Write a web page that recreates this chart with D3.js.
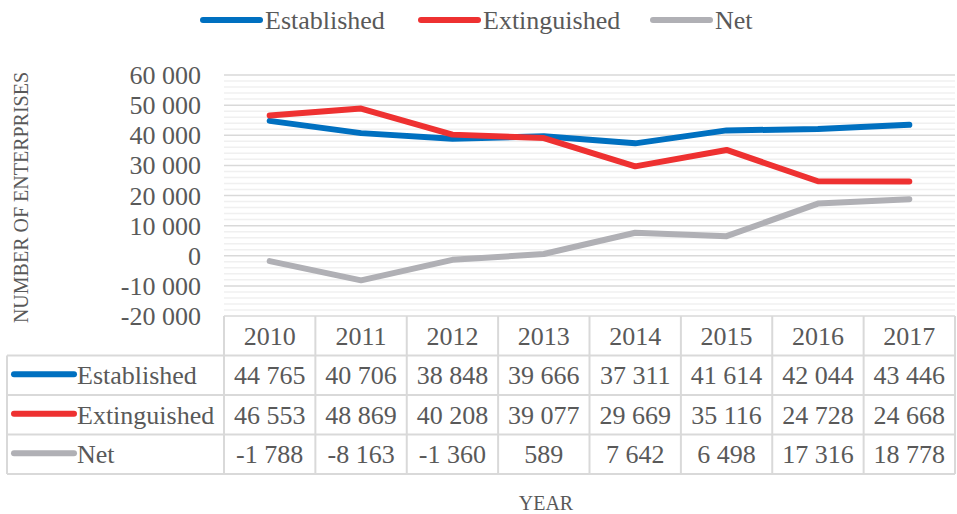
<!DOCTYPE html>
<html>
<head>
<meta charset="utf-8">
<script src="https://cdn.jsdelivr.net/npm/d3@7"></script>
<style>
  body { margin: 0; background: #fff; }
</style>
</head>
<body>
<div id="chart"></div>
<script>
var years = ["2010", "2011", "2012", "2013", "2014", "2015", "2016", "2017"];
var seriesNames = ["Established", "Extinguished", "Net"];
var established = [44765, 40706, 38848, 39666, 37311, 41614, 42044, 43446];
var extinguished = [46553, 48869, 40208, 39077, 29669, 35116, 24728, 24668];
var net = [-1788, -8163, -1360, 589, 7642, 6498, 17316, 18778];
var yTicks = [-20000, -10000, 0, 10000, 20000, 30000, 40000, 50000, 60000];
var colors = ["#0070c0", "#ee3131", "#b0b0b5"];

var seriesValues = [established, extinguished, net];
var W = 957, H = 514;
var plot = {left: 224, right: 955, top: 75, bottom: 316};
var rowH = 39.5;
var tableLeft = 7;
var serif = "'Liberation Serif', 'Times New Roman', 'DejaVu Serif', serif";

var svg = d3.select("#chart").append("svg")
    .attr("width", W).attr("height", H)
    .attr("font-family", serif);

var x = d3.scaleBand().domain(years).range([plot.left, plot.right]);
var y = d3.scaleLinear().domain([-20000, 60000]).range([plot.bottom, plot.top]);

function fmt(v) {
    var s = Math.abs(v).toString().replace(/\B(?=(\d{3})+(?!\d))/g, " ");
    return (v < 0 ? "-" : "") + s;
}

function label(sel) {
    return sel.attr("font-family", serif).attr("fill", "#595959");
}

// minor gridlines
var minor = d3.range(-20000, 60001, 2000).filter(function(v) { return v % 10000 !== 0; });
svg.append("g").selectAll("line").data(minor).enter().append("line")
    .attr("x1", plot.left).attr("x2", plot.right)
    .attr("y1", function(d) { return y(d); }).attr("y2", function(d) { return y(d); })
    .attr("stroke", "#f0f0f0").attr("stroke-width", 1.5);

// major gridlines
svg.append("g").selectAll("line").data(yTicks).enter().append("line")
    .attr("x1", plot.left).attr("x2", plot.right)
    .attr("y1", function(d) { return y(d); }).attr("y2", function(d) { return y(d); })
    .attr("stroke", "#d9d9d9").attr("stroke-width", 1.5);

// y axis labels
label(svg.append("g").selectAll("text").data(yTicks).enter().append("text"))
    .attr("x", 201).attr("y", function(d) { return y(d) + 9; })
    .attr("text-anchor", "end")
    .attr("font-size", 26)
    .text(function(d) { return fmt(d); });

label(svg.append("text"))
    .attr("transform", "translate(28," + ((plot.top + plot.bottom) / 2 + 2) + ") rotate(-90)")
    .attr("text-anchor", "middle")
    .attr("font-size", 20)
    .text("NUMBER OF ENTERPRISES");

// lines
var line = d3.line()
    .x(function(d, i) { return x(years[i]) + x.bandwidth() / 2; })
    .y(function(d) { return y(d); });

seriesValues.forEach(function(vals, k) {
    svg.append("path")
        .datum(vals)
        .attr("d", line)
        .attr("fill", "none")
        .attr("stroke", colors[k])
        .attr("stroke-width", 6)
        .attr("stroke-linejoin", "round")
        .attr("stroke-linecap", "round");
});

// data table
var table = svg.append("g");
var gridColor = "#d9d9d9";
var tableBottom = plot.bottom + rowH * 4;

// header row: year cells
label(table.selectAll(".yr").data(years).enter().append("text"))
    .attr("x", function(d) { return x(d) + x.bandwidth() / 2; })
    .attr("y", plot.bottom + rowH / 2 + 9)
    .attr("text-anchor", "middle")
    .attr("font-size", 26)
    .text(function(d) { return d; });

// horizontal borders
var hLines = [1, 2, 3, 4];
table.selectAll(".hl").data(hLines).enter().append("line")
    .attr("x1", tableLeft).attr("x2", plot.right)
    .attr("y1", function(d) { return plot.bottom + rowH * d; })
    .attr("y2", function(d) { return plot.bottom + rowH * d; })
    .attr("stroke", gridColor).attr("stroke-width", 2);

// vertical borders
var vx = years.map(function(d) { return x(d); }).concat([plot.right]);
table.selectAll(".vl").data(vx).enter().append("line")
    .attr("x1", function(d) { return d; }).attr("x2", function(d) { return d; })
    .attr("y1", plot.bottom).attr("y2", tableBottom)
    .attr("stroke", gridColor).attr("stroke-width", 2);
table.append("line")
    .attr("x1", tableLeft).attr("x2", tableLeft)
    .attr("y1", plot.bottom + rowH).attr("y2", tableBottom)
    .attr("stroke", gridColor).attr("stroke-width", 2);

seriesNames.forEach(function(name, k) {
    var cy = plot.bottom + rowH * (k + 1) + rowH / 2;
    table.append("line")
        .attr("x1", 14).attr("x2", 74)
        .attr("y1", cy - 1).attr("y2", cy - 1)
        .attr("stroke", colors[k]).attr("stroke-width", 6)
        .attr("stroke-linecap", "round");
    label(table.append("text"))
        .attr("x", 77).attr("y", cy + 9)
        .attr("font-size", 26)
        .text(name);
    label(table.selectAll(".v" + k).data(seriesValues[k]).enter().append("text"))
        .attr("x", function(d, i) { return x(years[i]) + x.bandwidth() / 2; })
        .attr("y", cy + 9)
        .attr("text-anchor", "middle")
        .attr("font-size", 26)
        .text(function(d) { return fmt(d); });
});

label(svg.append("text"))
    .attr("x", 546).attr("y", 510)
    .attr("text-anchor", "middle")
    .attr("font-size", 20)
    .text("YEAR");

// legend
var legendX = [200, 418, 650];
var legend = svg.append("g");
seriesNames.forEach(function(name, k) {
    legend.append("line")
        .attr("x1", legendX[k] + 3).attr("x2", legendX[k] + 60)
        .attr("y1", 20).attr("y2", 20)
        .attr("stroke", colors[k]).attr("stroke-width", 6)
        .attr("stroke-linecap", "round");
    label(legend.append("text"))
        .attr("x", legendX[k] + 65).attr("y", 29)
        .attr("font-size", 26)
        .text(name);
});
</script>
</body>
</html>
